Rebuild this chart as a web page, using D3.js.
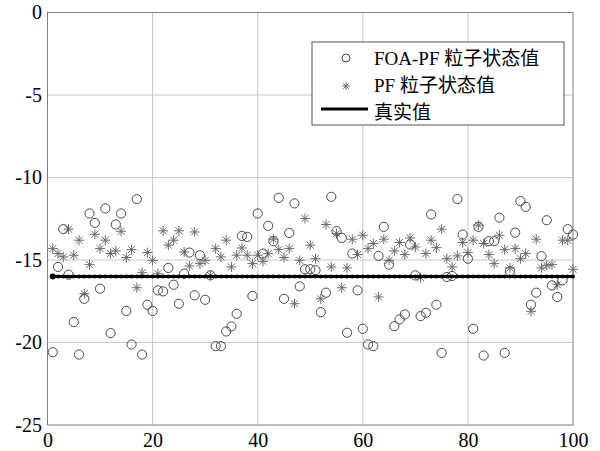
<!DOCTYPE html>
<head>
<meta charset="utf-8">
<script src="https://d3js.org/d3.v7.min.js"></script>
<style>
    body { margin: 0; background: #fff; }
    .grid line {
        stroke: #c8c8c8;
        stroke-width: 1px;
    }
    .frame {
        fill: none;
        stroke: #7f7f7f;
        stroke-width: 1px;
    }
    .foa {
        fill: none;
        stroke: #4a4a4a;
        stroke-width: 1px;
    }
    .pf {
        fill: none;
        stroke: #6a6a6a;
        stroke-width: 1px;
    }
    .legend text, .axis text {
        font-family: "Liberation Serif", "Noto Sans CJK SC", serif;
        fill: #000;
    }
    .legend text { font-size: 19px; }
    .axis text { font-size: 20px; }
</style>
</head>

<body>
<svg width="600" height="451"></svg>
<script>
    // particle state values, one per time step 1..100
    var foaVals = [
        -20.59, -15.42, -13.13, -15.89, -18.76, -20.73, -17.35, -12.18, -12.75, -16.74,
        -11.88, -19.43, -12.85, -12.18, -18.09, -20.12, -11.31, -20.73, -17.71, -18.09,
        -16.84, -16.90, -15.48, -16.50, -17.65, -15.83, -14.55, -17.14, -14.71, -17.41,
        -15.93, -20.22, -20.22, -19.33, -19.03, -18.26, -13.54, -13.60, -17.18, -12.18,
        -14.61, -12.93, -13.86, -11.23, -17.35, -13.36, -11.57, -16.60, -15.56, -15.56,
        -15.62, -18.16, -16.98, -11.17, -13.25, -13.66, -19.41, -14.61, -16.84, -19.17,
        -20.12, -20.22, -14.75, -12.99, -15.28, -19.01, -18.60, -18.30, -14.06, -15.93,
        -18.40, -18.20, -12.24, -17.71, -20.63, -16.03, -15.97, -11.31, -13.46, -14.92,
        -19.17, -12.99, -20.79, -13.86, -13.86, -12.43, -20.63, -15.68, -13.34, -11.43,
        -11.78, -17.71, -16.98, -14.77, -12.59, -16.54, -17.24, -16.23, -13.13, -13.46
    ];
    var pfVals = [
        -14.31, -14.61, -14.81, -13.13, -14.71, -13.80, -17.04, -15.28, -13.44, -14.31,
        -13.80, -14.61, -14.45, -13.26, -14.85, -14.37, -16.68, -15.77, -14.55, -15.02,
        -15.83, -13.23, -14.10, -13.80, -13.23, -14.51, -15.36, -13.30, -15.22, -15.02,
        -15.93, -14.31, -14.81, -13.80, -15.42, -14.71, -14.27, -14.71, -15.22, -14.71,
        -15.08, -14.61, -13.74, -14.37, -14.85, -14.31, -17.65, -15.02, -12.49, -14.10,
        -14.92, -17.35, -12.85, -15.42, -13.40, -16.68, -15.48, -13.74, -14.67, -13.50,
        -14.31, -14.00, -17.24, -13.74, -15.02, -14.45, -13.94, -14.67, -13.66, -14.21,
        -16.07, -14.61, -13.80, -14.25, -13.13, -14.92, -15.42, -14.75, -13.94, -14.55,
        -13.80, -12.89, -14.00, -14.67, -15.22, -13.50, -14.37, -15.48, -14.31, -14.92,
        -14.61, -18.11, -13.74, -15.48, -15.32, -15.28, -16.50, -13.80, -13.80, -15.56
    ];
    var trueVal = -16;
    var xTicks = [0, 20, 40, 60, 80, 100];
    var yTicks = [0, -5, -10, -15, -20, -25];
    var legendLabels = ["FOA-PF 粒子状态值", "PF 粒子状态值", "真实值"];

    var svg = d3.select("svg");

    var x = d3.scaleLinear().domain([0, 100]).range([47.5, 573]);
    var y = d3.scaleLinear().domain([-25, 0]).range([425, 12.5]);

    var steps = d3.range(1, foaVals.length + 1);

    // grid lines
    var grid = svg.append("g").attr("class", "grid");
    grid.selectAll(".gx")
        .data(xTicks.slice(1, -1))
        .enter().append("line")
        .attr("x1", function(d) { return x(d); })
        .attr("x2", function(d) { return x(d); })
        .attr("y1", y(-25))
        .attr("y2", y(0));
    grid.selectAll(".gy")
        .data(yTicks.slice(1, -1))
        .enter().append("line")
        .attr("y1", function(d) { return y(d); })
        .attr("y2", function(d) { return y(d); })
        .attr("x1", x(0))
        .attr("x2", x(100));

    // plain hyphen minus like matlab
    var fmt = function(d) { return String(d); };

    // axes (labels only, the box is drawn separately)
    var xAxis = svg.append("g")
        .attr("class", "axis")
        .attr("transform", "translate(0," + y(-25) + ")")
        .call(d3.axisBottom(x).tickValues(xTicks).tickSize(0).tickPadding(8).tickFormat(fmt))
        .attr("font-family", "Liberation Serif")
        .attr("font-size", 20);
    xAxis.select(".domain").remove();

    var yAxis = svg.append("g")
        .attr("class", "axis")
        .attr("transform", "translate(" + x(0) + ",0)")
        .call(d3.axisLeft(y).tickValues(yTicks).tickSize(0).tickPadding(5.5).tickFormat(fmt))
        .attr("font-family", "Liberation Serif")
        .attr("font-size", 20);
    yAxis.select(".domain").remove();

    svg.append("rect")
        .attr("class", "frame")
        .attr("x", x(0))
        .attr("y", y(0))
        .attr("width", x(100) - x(0))
        .attr("height", y(-25) - y(0));

    // asterisk marker like matlab '*'
    var starPath = "M-5,0L5,0M0,-5L0,5M-3.5,-3.5L3.5,3.5M-3.5,3.5L3.5,-3.5";

    svg.append("g").selectAll("path")
        .data(steps)
        .enter().append("path")
        .attr("class", "pf")
        .attr("d", starPath)
        .attr("transform", function(d) { return "translate(" + x(d) + "," + y(pfVals[d - 1]) + ")"; });

    svg.append("g").selectAll("circle")
        .data(steps)
        .enter().append("circle")
        .attr("class", "foa")
        .attr("r", 4.6)
        .attr("cx", function(d) { return x(d); })
        .attr("cy", function(d) { return y(foaVals[d - 1]); });

    // true value: thick black line with dot markers
    var line = d3.line()
        .x(function(d) { return x(d); })
        .y(function() { return y(trueVal); });
    svg.append("path")
        .datum(steps)
        .attr("d", line)
        .attr("fill", "none")
        .attr("stroke", "#000")
        .attr("stroke-width", 3);
    svg.append("g").selectAll("circle")
        .data(steps)
        .enter().append("circle")
        .attr("r", function(d) { return d === 1 ? 3 : 2; })
        .attr("cx", function(d) { return x(d); })
        .attr("cy", y(trueVal))
        .attr("fill", "#000");

    // legend
    var legend = svg.append("g").attr("class", "legend");
    legend.append("rect")
        .attr("x", 312)
        .attr("y", 42)
        .attr("width", 252)
        .attr("height", 83)
        .attr("fill", "#fff")
        .attr("stroke", "#555")
        .attr("stroke-width", 1);
    legend.append("circle")
        .attr("class", "foa")
        .attr("cx", 346)
        .attr("cy", 58)
        .attr("r", 4);
    legend.append("path")
        .attr("class", "pf")
        .attr("d", "M-4,0L4,0M0,-4L0,4M-2.8,-2.8L2.8,2.8M-2.8,2.8L2.8,-2.8")
        .attr("transform", "translate(346,86)");
    legend.append("line")
        .attr("x1", 321).attr("x2", 368)
        .attr("y1", 109).attr("y2", 109)
        .attr("stroke", "#000")
        .attr("stroke-width", 3);
    legend.selectAll("text")
        .data(legendLabels)
        .enter().append("text")
        .attr("x", 374)
        .attr("y", function(d, i) { return 65 + i * 27; })
        .text(function(d) { return d; });
</script>
</body>
